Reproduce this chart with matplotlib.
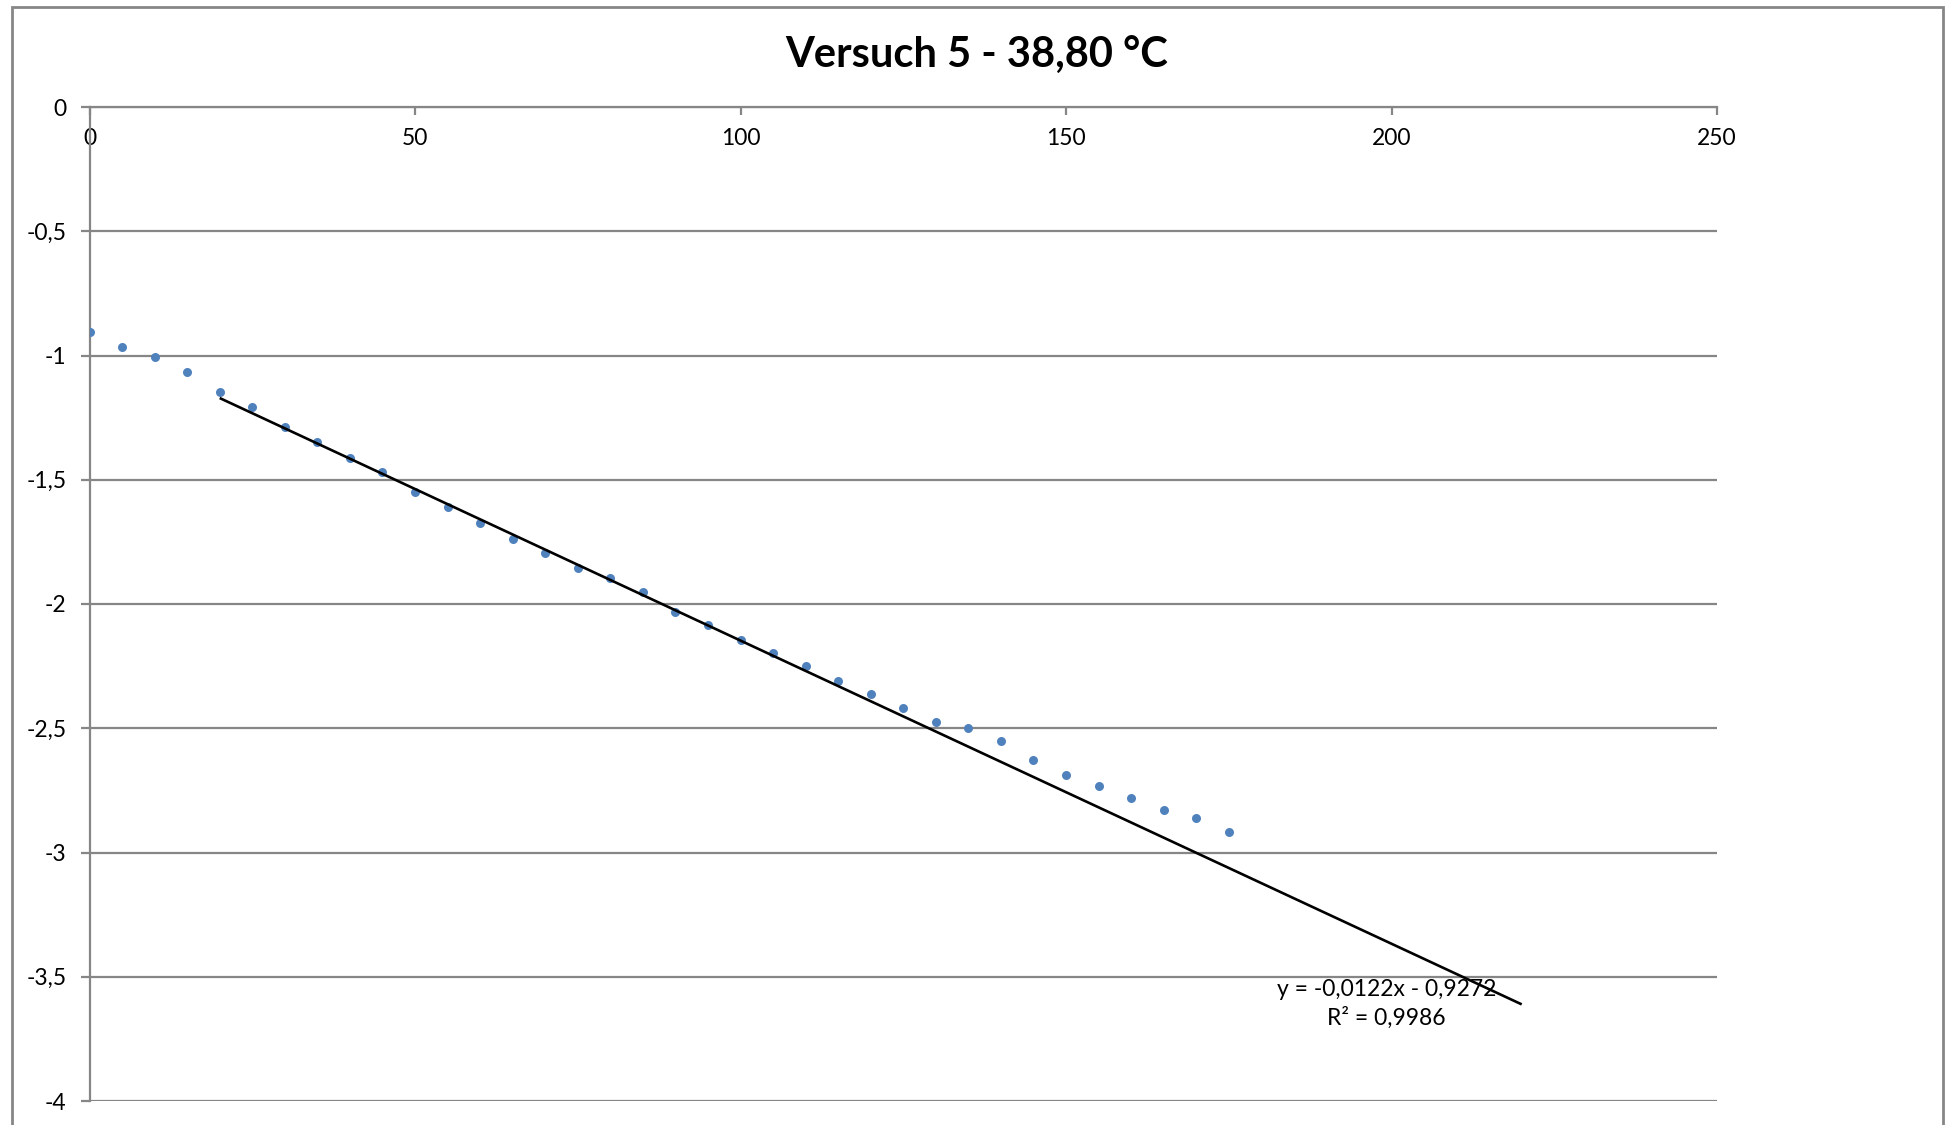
import matplotlib
matplotlib.use("Agg")
import matplotlib.pyplot as plt
from matplotlib.patches import Rectangle
import numpy as np

plt.rcParams['font.family'] = ['Lato', 'DejaVu Sans']

# ---- data ----
time_x = [0, 5, 10, 15, 20, 25, 30, 35, 40, 45, 50, 55, 60, 65, 70, 75, 80, 85,
          90, 95, 100, 105, 110, 115, 120, 125, 130, 135, 140, 145, 150, 155,
          160, 165, 170, 175]
values_y = [-0.906, -0.967, -1.008, -1.067, -1.146, -1.206, -1.286, -1.350,
            -1.414, -1.467, -1.548, -1.609, -1.676, -1.737, -1.794, -1.857,
            -1.897, -1.950, -2.033, -2.086, -2.145, -2.196, -2.250, -2.310,
            -2.362, -2.417, -2.475, -2.500, -2.550, -2.629, -2.687, -2.732,
            -2.779, -2.827, -2.862, -2.917]
trend_slope = -0.0122
trend_intercept = -0.9272
trend_x_range = [20, 220]
trend_label = "y = -0,0122x - 0,9272\nR² = 0,9986"
title = "Versuch 5 - 38,80 °C"
x_ticks = [0, 50, 100, 150, 200, 250]
x_ticklabels = ["0", "50", "100", "150", "200", "250"]
y_ticks = [0, -0.5, -1, -1.5, -2, -2.5, -3, -3.5, -4]
y_ticklabels = ["0", "-0,5", "-1", "-1,5", "-2", "-2,5", "-3", "-3,5", "-4"]

W, H = 1950, 1125
fig = plt.figure(figsize=(W / 100, H / 100), dpi=100)
grey = "#868686"

# outer chart border
fig.patches.append(Rectangle((12 / W, -0.05), (1943 - 12) / W, 1.05 - 7 / H,
                             transform=fig.transFigure, fill=False,
                             edgecolor=grey, linewidth=2.0))

left, right = 89.5 / W, 1717 / W
top, bottom = 1 - 107 / H, 1 - 1101 / H
ax = fig.add_axes([left, bottom, right - left, top - bottom])
ax.set_xlim(0, 250)
ax.set_ylim(-4, 0)

for s in ["right", "bottom"]:
    ax.spines[s].set_visible(False)
for s in ["left", "top"]:
    ax.spines[s].set_color(grey)
    ax.spines[s].set_linewidth(1.6)

ax.set_xticks(x_ticks)
ax.set_xticklabels(x_ticklabels)
ax.set_yticks(y_ticks)
ax.set_yticklabels(y_ticklabels)
ax.tick_params(axis="x", top=True, labeltop=True, bottom=False, labelbottom=False,
               direction="in", length=6, width=1.6, color=grey, pad=-30.5,
               labelsize=16.5)
ax.tick_params(axis="y", left=True, direction="out", length=6.5, width=1.6,
               color=grey, pad=10, labelsize=16.5)
ax.yaxis.grid(True, color=grey, linewidth=1.6)
ax.set_axisbelow(True)

ax.scatter(time_x, values_y, s=42, color="#4F81BD", zorder=3, linewidths=0)

tx = np.array(trend_x_range, dtype=float)
ax.plot(tx, trend_slope * tx + trend_intercept, color="black", linewidth=1.9,
        zorder=4, solid_capstyle="butt")

ax.text(199.2, -3.61, trend_label, ha="center", va="center", fontsize=16.5,
        linespacing=1.4, zorder=5)

fig.text(977 / W, 1 - 56 / H, title, ha="center", va="center", fontsize=30,
         fontweight="bold")

fig.savefig("out.png", dpi=100)
